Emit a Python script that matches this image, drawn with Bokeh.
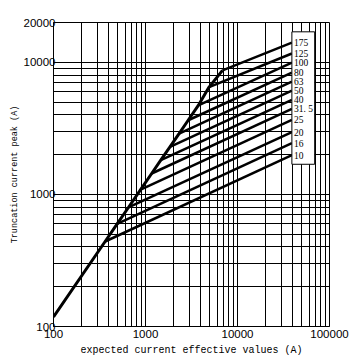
from bokeh.plotting import figure
from bokeh.models import FixedTicker, ColumnDataSource, PrintfTickFormatter
from bokeh.embed import file_html
from bokeh.resources import INLINE
from bokeh.core.properties import value

# ---- data ----
ratings = ["175", "125", "100", "80", "63", "50", "40", "31. 5", "25", "20", "16", "10"]
start_current = [6870, 4910, 3750, 2911, 2318, 1845, 1466, 1167, 885, 652, 492, 364]
start_peak = [8690, 6490, 4710, 3640, 2884, 2290, 1815, 1439, 1086, 796, 598, 440]
end_current = [39000] * 12
end_peak = [14100, 11650, 9950, 8350, 7130, 6090, 5200, 4440, 3660, 2960, 2440, 1980]
env_origin_current = 100
env_origin_peak = 118

x_ticks = [100, 1000, 10000, 100000]
y_ticks = [100, 1000, 10000, 20000]

legend_box_left = 39000
legend_box_right = 69000
legend_box_bottom = 1690
legend_box_top = 17000

# minor grid positions (2..9 per decade)
x_minor = [m * d for d in (100, 1000, 10000) for m in range(2, 10)]
y_minor = [m * d for d in (100, 1000) for m in range(2, 10)]

p = figure(frame_width=276, frame_height=304, x_axis_type="log", y_axis_type="log",
           x_range=(100, 100000), y_range=(100, 20000),
           output_backend="svg", toolbar_location=None,
           min_border_left=53, min_border_right=30, min_border_top=22, min_border_bottom=34)
p.outline_line_color = "black"
p.outline_line_width = 1
p.background_fill_color = "white"
p.border_fill_color = "white"

p.xaxis.ticker = FixedTicker(ticks=x_ticks, minor_ticks=x_minor)
p.yaxis.ticker = FixedTicker(ticks=y_ticks, minor_ticks=y_minor)
p.xaxis.formatter = PrintfTickFormatter(format="%d")
p.yaxis.formatter = PrintfTickFormatter(format="%d")

for ax in (p.xaxis, p.yaxis):
    ax.major_tick_line_color = None
    ax.minor_tick_line_color = None
    ax.major_tick_out = 0
    ax.major_tick_in = 0
    ax.minor_tick_out = 0
    ax.minor_tick_in = 0
    ax.axis_line_color = "black"
    ax.major_label_text_font = "Liberation Sans"
    ax.major_label_text_font_size = "11.5px"
    ax.major_label_text_color = "black"
    ax.axis_label_text_font = "Liberation Mono"
    ax.axis_label_text_font_style = "normal"
    ax.axis_label_text_color = "black"

p.xaxis.axis_label = "expected current effective values (A)"
p.yaxis.axis_label = "Truncation current peak (A)"
p.xaxis.axis_label_text_font_size = "10px"
p.yaxis.axis_label_text_font_size = "8.5px"
p.xaxis.major_label_standoff = 3
p.yaxis.major_label_standoff = -2
p.xaxis.axis_label_standoff = 4
p.yaxis.axis_label_standoff = 1

for g in (p.xgrid, p.ygrid):
    g.grid_line_color = "black"
    g.grid_line_alpha = 1
    g.grid_line_width = 1
    g.minor_grid_line_color = "black"
    g.minor_grid_line_alpha = 1
    g.minor_grid_line_width = 1

# envelope (cut-off limit) through the starting points of the rated lines
env_x = [env_origin_current] + start_current[::-1]
env_y = [env_origin_peak] + start_peak[::-1]
p.line(env_x, env_y, line_color="black", line_width=3)

src = ColumnDataSource(dict(x0=start_current, y0=start_peak, x1=end_current, y1=end_peak,
                            label=ratings))
p.segment("x0", "y0", "x1", "y1", source=src, line_color="black", line_width=2.5)

p.quad(left=[legend_box_left], right=[legend_box_right],
       bottom=[legend_box_bottom], top=[legend_box_top],
       fill_color="white", line_color="black", line_width=1)

p.text(x="x1", y="y1", text="label", source=src, x_offset=2,
       text_baseline="middle", text_align="left",
       text_font=value("Liberation Serif"), text_font_size="9.5px", text_color="black")

open("out.html", "w").write(file_html(p, INLINE))
